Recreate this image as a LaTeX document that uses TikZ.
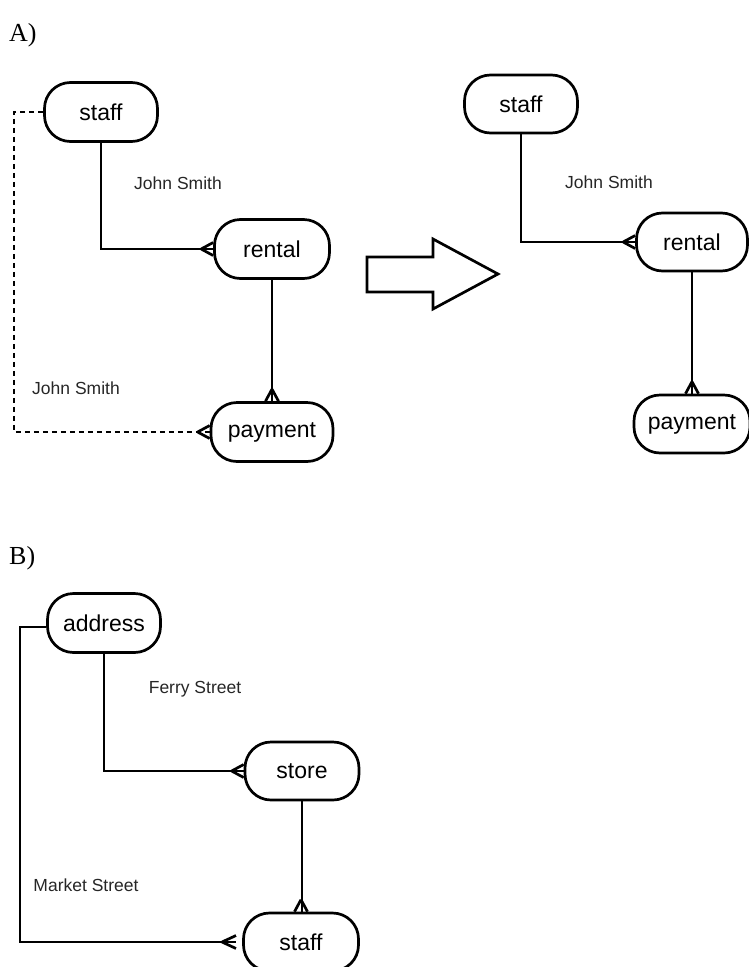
\documentclass[tikz,border=0pt]{standalone}
\usepackage{fontspec}
\setmainfont{Liberation Serif}
\newfontfamily\nodefont{Liberation Sans}
\usetikzlibrary{calc}
\tikzset{
  ent/.style={draw, line width=2.7pt, rounded corners=26pt, inner sep=0pt,
    minimum height=59pt, font=\nodefont\fontsize{23}{26}\selectfont},
  conn/.style={line width=2.7pt},
  dconn/.style={line width=2.7pt, dash pattern=on 5pt off 4pt},
  lbl/.style={font=\nodefont\fontsize{17.5}{20}\selectfont, text=black!85, inner sep=0pt},
  sec/.style={font=\fontsize{26}{30}\selectfont, inner sep=0pt, anchor=base west}
}
\newcommand\crowfootW[1]{%
  \draw[conn] ($(#1.west)+(-12,0)$) -- ($(#1.west)+(0,-6.5)$);
  \draw[conn] ($(#1.west)+(-12,0)$) -- ($(#1.west)+(0,6.5)$);}
\newcommand\crowfootN[1]{%
  \draw[conn] ($(#1.north)+(0,-12)$) -- ($(#1.north)+(-6.5,0)$);
  \draw[conn] ($(#1.north)+(0,-12)$) -- ($(#1.north)+(6.5,0)$);}
\begin{document}
\begin{tikzpicture}[x=1pt,y=-1pt]
\useasboundingbox (0,0) rectangle (748,967);
% section labels
\node[sec] (secA) at (9,41) {A)};
\node[sec] (secB) at (9,564) {B)};
% ---------- A left ----------
\node[ent, minimum width=113pt] (staffA) at (101,112) {staff};
\node[ent, minimum width=115pt] (rentalA) at (272,249) {rental};
\node[ent, minimum width=122pt] (paymentA) at (272,432) {payment};
\draw[conn] (staffA.south) |- (rentalA.west);
\crowfootW{rentalA}
\draw[conn] (rentalA.south) -- (paymentA.north);
\crowfootN{paymentA}
\coordinate (dA) at (14,112);
\draw[dconn] (staffA.west) -- (dA) |- (paymentA.west);
\crowfootW{paymentA}
\node[lbl] (lblA1) at (178,183) {John Smith};
\node[lbl] (lblA2) at (76,388) {John Smith};
% big arrow
\draw[line width=2.7pt, line join=miter] (367,257) -- (433,257) -- (433,239) -- (498,274) -- (433,309) -- (433,292) -- (367,292) -- cycle;
% ---------- A right ----------
\node[ent, minimum width=113pt, minimum height=58pt] (staffR) at (521,104) {staff};
\node[ent, minimum width=111pt, minimum height=58pt] (rentalR) at (692,242) {rental};
\node[ent, minimum width=116pt, minimum height=58pt] (paymentR) at (692,424) {payment};
\draw[conn] (staffR.south) |- (rentalR.west);
\crowfootW{rentalR}
\draw[conn] (rentalR.south) -- (paymentR.north);
\crowfootN{paymentR}
\node[lbl] (lblR) at (609,182) {John Smith};
% ---------- B ----------
\node[ent, minimum width=113pt] (addrB) at (104,623) {address};
\node[ent, minimum width=114pt, minimum height=58pt] (storeB) at (302,771) {store};
\node[ent, minimum width=115pt, minimum height=58pt] (staffB) at (301,942) {staff};
\draw[conn] (addrB.south) |- (storeB.west);
\crowfootW{storeB}
\draw[conn] (storeB.south) -- (storeB.south |- staffB.north);
\crowfootN{staffB}
\coordinate (bL) at (20,627);
\coordinate (bE) at (236,942);
\draw[conn] ($(addrB.west)+(0,4)$) -- (bL) |- (bE);
\draw[conn] ($(bE)+(-14,0)$) -- ($(bE)+(0,-6.5)$);
\draw[conn] ($(bE)+(-14,0)$) -- ($(bE)+(0,6.5)$);
\node[lbl] (lblB1) at (195,689) {Ferry Street};
\node[lbl] (lblB2) at (86,885) {Market Street};
\end{tikzpicture}
\end{document}
